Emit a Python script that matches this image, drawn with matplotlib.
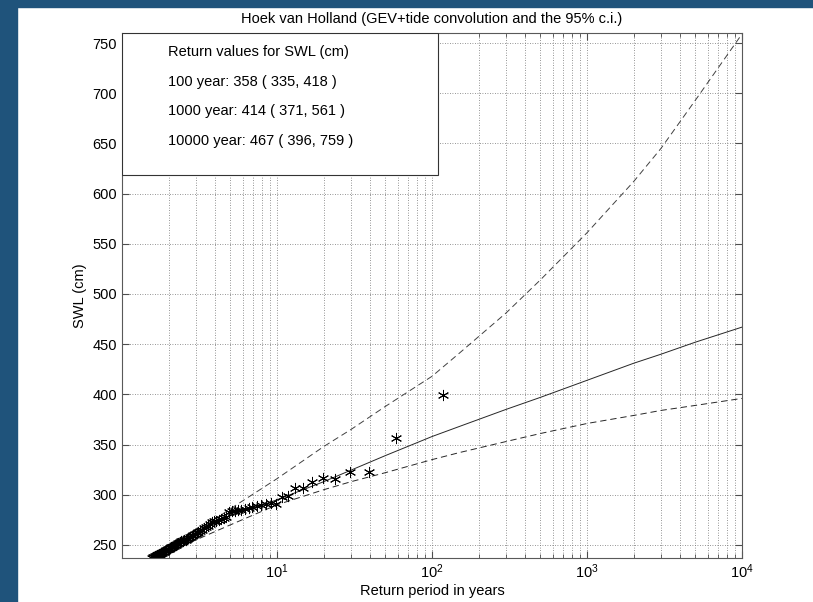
"""Hoek van Holland return level plot (GEV+tide convolution, 95% c.i.)."""

import matplotlib
matplotlib.use("Agg")
import matplotlib.pyplot as plt
from matplotlib.patches import Rectangle

# return periods (years) and levels for the fitted curve and its 95% band
curve_periods = [1.58, 2, 3, 5, 10, 20, 30, 50, 100, 150, 300, 500, 1000,
                 2000, 3000, 5000, 10000]
central_swl = [237, 247, 262, 279, 295, 313, 324.5, 339, 358, 368, 385, 397, 414,
               431, 440, 452, 467]
upper_swl = [238, 247, 263, 286, 316, 348, 365, 388, 418, 441, 481, 514, 561,
             612, 645, 693, 759]
lower_swl = [236, 243, 255, 270, 290, 305, 313, 322, 335, 342, 353, 361, 371,
             379, 384, 389, 396]

# observed annual maxima (plotting positions)
obs_periods = [118, 59, 39.33, 29.5, 23.6, 19.67, 16.86, 14.75, 13.11, 11.8,
               10.73, 9.83, 9.08, 8.43, 7.87, 7.38, 6.94, 6.56, 6.21, 5.9,
               5.62, 5.36, 5.13, 4.92, 4.72, 4.54, 4.37, 4.21, 4.07, 3.93,
               3.81, 3.69, 3.58, 3.47, 3.37, 3.28, 3.19, 3.11, 3.03, 2.95,
               2.88, 2.81, 2.74, 2.68, 2.62, 2.57, 2.51, 2.46, 2.41, 2.36,
               2.31, 2.27, 2.23, 2.19, 2.15, 2.11, 2.07, 2.03, 2.0, 1.97,
               1.93, 1.90, 1.87, 1.84, 1.82, 1.79, 1.76, 1.74, 1.71, 1.69,
               1.66, 1.64, 1.62, 1.59, 1.57]
obs_swl = [399, 357, 323, 323, 316, 317, 313, 307, 307, 299,
           298, 291, 292, 291, 290, 289, 288, 287, 286, 285,
           285, 284, 284, 283, 278, 277, 276, 275, 274, 274,
           273, 271, 269, 268, 267, 265, 264, 263, 262, 261,
           260, 259, 258, 257, 256, 255, 255, 254, 254, 253,
           252, 251, 250, 250, 249, 248, 248, 247, 246, 246,
           245, 244, 243, 243, 242, 242, 241, 241, 240, 240,
           239, 239, 238, 238, 237]

info_lines = ["Return values for SWL (cm)",
              "100 year: 358 ( 335, 418 )",
              "1000 year: 414 ( 371, 561 )",
              "10000 year: 467 ( 396, 759 )"]

plt.rcParams["font.family"] = ["Liberation Sans", "DejaVu Sans"]
plt.rcParams["mathtext.fontset"] = "custom"
plt.rcParams["mathtext.rm"] = "Liberation Sans"

fig = plt.figure(figsize=(8.13, 6.02), dpi=100)
# dark blue frame on the left and top
fig.patches.append(Rectangle((0, 0), 17 / 813, 1, transform=fig.transFigure,
                             color="#1f537b", zorder=0))
fig.patches.append(Rectangle((0, 1 - 7 / 602), 1, 7 / 602, transform=fig.transFigure,
                             color="#1f537b", zorder=0))

ax = fig.add_axes([122 / 813, 44 / 602, 620 / 813, 525 / 602])
ax.set_xscale("log")

ax.plot(curve_periods, upper_swl, color="0.25", lw=0.7, dashes=(6.5, 4))
ax.plot(curve_periods, lower_swl, color="0.15", lw=0.7, dashes=(6.5, 4))
ax.plot(curve_periods, central_swl, color="0.15", lw=0.7)
ax.plot(obs_periods, obs_swl, ls="none", marker=(6, 2, 0), ms=8,
        mec="black", mew=0.7)

ax.set_xlim(1, 10000)
ax.set_ylim(237, 760)
ax.set_xticks([10, 100, 1000, 10000])
ax.set_yticks(range(250, 751, 50))
ax.grid(True, which="major", color="0.45", ls=(0, (1, 2)), lw=0.6)
ax.grid(True, which="minor", axis="x", color="0.45", ls=(0, (1, 2)), lw=0.6)
ax.tick_params(which="both", direction="in", top=True, right=True,
               labelsize=10.5, color="0.3")
ax.tick_params(which="major", length=5)
ax.tick_params(which="minor", length=3)
for spine in ax.spines.values():
    spine.set_color("0.35")
    spine.set_linewidth(0.8)

ax.set_title("Hoek van Holland (GEV+tide convolution and the 95% c.i.)",
             fontsize=10.5, pad=7)
ax.set_xlabel("Return period in years", fontsize=10.5, labelpad=2)
ax.set_ylabel("SWL (cm)", fontsize=10.5, labelpad=4)

# white text box in the upper-left corner
ax.add_patch(Rectangle((0, 1 - 142 / 525), 316 / 620, 142 / 525,
                       transform=ax.transAxes, facecolor="white",
                       edgecolor="0.2", lw=0.8, zorder=5))
for k, line in enumerate(info_lines):
    ax.text(46 / 620, 1 - (19 + 29.7 * k) / 525, line, transform=ax.transAxes,
            fontsize=10.5, va="center", ha="left", zorder=6)

fig.savefig("out.png", dpi=100)
